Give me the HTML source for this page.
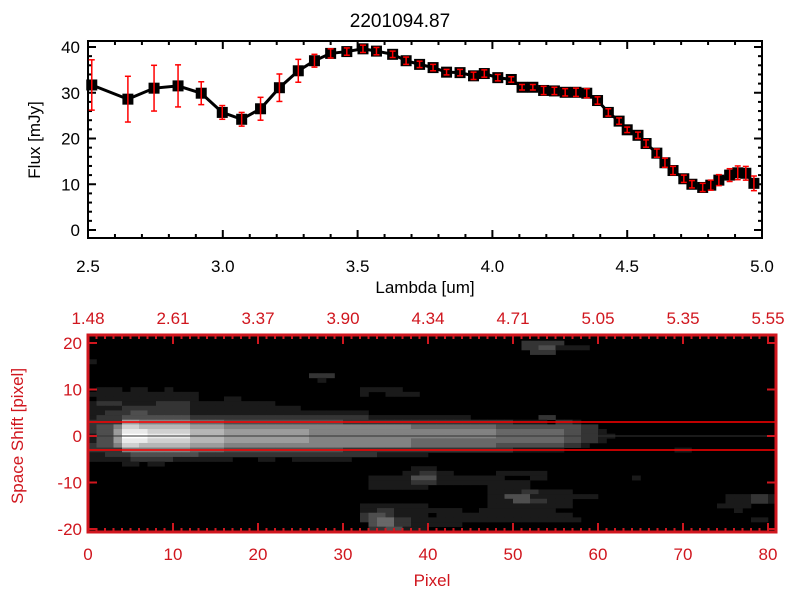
<!DOCTYPE html>
<html><head><meta charset="utf-8"><style>
html,body{margin:0;padding:0;background:#fff;}
svg text{font-family:"Liberation Sans",sans-serif;}
</style></head><body>
<svg id="chart" width="800" height="600" xmlns="http://www.w3.org/2000/svg">
<rect width="800" height="600" fill="#fff"/>
<text x="400" y="27" font-size="19" text-anchor="middle">2201094.87</text>
<g id="topPlot"></g>
<g id="botPlot"></g>
</svg>
<script>
// ---- spectrum data ----
const lambdaVals=[2.514,2.648,2.745,2.834,2.92,2.998,3.07,3.14,3.21,3.28,3.34,3.40,3.46,3.52,3.57,3.63,3.68,3.73,3.78,3.83,3.88,3.93,3.97,4.02,4.07,4.11,4.15,4.19,4.23,4.27,4.31,4.35,4.39,4.43,4.47,4.50,4.54,4.57,4.61,4.64,4.67,4.71,4.74,4.78,4.81,4.84,4.88,4.91,4.94,4.97];
const fluxVals=[31.7,28.6,31.0,31.5,29.9,25.7,24.2,26.5,31.1,34.8,37.0,38.6,39.0,39.6,39.1,38.4,37.0,36.2,35.5,34.5,34.4,33.7,34.2,33.3,32.9,31.2,31.2,30.5,30.4,30.1,30.1,29.9,28.3,25.7,23.8,21.9,20.7,18.9,16.8,14.7,13.0,11.2,10.0,9.3,9.8,10.9,12.0,12.5,12.4,10.2];
const fluxErr=[5.5,5.0,5.0,4.6,2.5,1.5,1.5,2.5,3.0,2.5,1.4,1.0,0.8,0.8,0.8,0.7,0.8,0.7,0.7,0.6,0.7,0.8,0.8,0.7,0.6,0.6,0.6,0.9,0.8,0.8,0.9,1.0,0.8,0.8,0.7,0.6,0.7,0.8,0.9,1.0,0.9,0.8,0.8,0.9,1.1,1.2,1.4,1.5,1.5,1.6];
const xTickLabels=["2.5","3.0","3.5","4.0","4.5","5.0"];
const yTickLabels=["0","10","20","30","40"];
// ---- image data (run-length rows, v=21 down to -21; "count:level") ----
const imgRows=["","51:0 5:2","51:0 2:2 2:3 4:1","52:0 3:2","","1:1","","","26:0 3:2","27:0 1:1","",
"1:0 3:1 1:0 2:1 2:0 1:1 22:0 5:1","13:1 19:0 1:1 2:0 4:1","1:0 12:1 3:0 2:1","1:1 3:2 4:1 4:2 10:1","1:1 3:1 8:2 4:1 9:1",
"2:1 3:2 2:3 5:2 4:1 17:1","1:1 3:2 8:3 4:2 17:2 12:1 8:0 2:2","1:2 3:2 2:6 6:5 4:4 14:3 20:2 4:1 1:0 2:2 1:1",
"1:2 2:3 1:5 2:8 6:7 4:6 10:5 12:5 10:4 8:3 2:3 2:2","1:2 2:3 1:6 3:9 5:8 4:7 10:6 12:5 10:5 8:4 2:3 2:2 1:1",
"1:1 2:3 1:6 3:10 5:9 4:7 10:6 12:5 10:5 8:4 2:3 2:2 2:1","1:1 2:3 1:6 3:9 5:8 4:7 10:6 12:5 10:4 8:4 2:3 2:2 1:1",
"1:2 2:3 1:5 2:8 6:7 4:6 10:5 12:5 10:4 8:3 2:2 1:1","1:2 3:2 2:5 6:5 4:4 14:3 20:2 6:1 13:0 2:1",
"2:1 3:2 8:3 4:2 17:2 6:1","2:1 3:1 5:2 7:1 3:0 2:1 2:0 7:1","4:0 2:1 1:0 2:1","38:0 3:1",
"37:0 2:1 2:2 2:1 5:0 6:1","33:0 5:1 3:3 8:1 3:0 2:1 10:0 1:1","33:0 4:1 1:1 3:2 9:1 2:1","33:0 7:1 7:0 5:1",
"47:0 4:1 2:2 4:1","47:0 2:1 3:3 8:1 15:0 3:1 2:2 3:1","47:0 3:1 2:3 2:2 3:1 18:0 3:1 2:2 2:1",
"32:0 8:1 7:0 10:1 17:0 4:1","32:0 2:1 2:2 3:1 5:1 2:0 9:1 21:0 1:1","32:0 1:2 2:3 1:2 4:1 1:0 4:1 12:1",
"32:0 1:2 1:3 2:4 2:2 3:1 6:1 11:1 20:0 2:1","33:0 1:3 2:4 2:2 3:1 3:1","33:0 2:2 2:3 3:1",""];
const topAxisLabels=["1.48","2.61","3.37","3.90","4.34","4.71","5.05","5.35","5.55"];
const pixTickLabels=["0","10","20","30","40","50","60","70","80"];
const shiftTickLabels=["-20","-10","0","10","20"];

const NS="http://www.w3.org/2000/svg";
function mk(parent,tag,attrs){const el=document.createElementNS(NS,tag);for(const k in attrs)el.setAttribute(k,attrs[k]);parent.appendChild(el);return el;}

// ===== top plot =====
const topG=document.getElementById('topPlot');
const L=88,R=762,T=41,B=238;
const sx=v=>L+(v-2.5)/2.5*(R-L);
const sy=v=>230-v*4.575;
let e;
e=mk(topG,'rect',{x:L,y:T,width:R-L,height:B-T,fill:'none',stroke:'#000','stroke-width':2});


for(let i=0;i<=25;i++){const v=2.5+i*0.1,x=sx(v),len=(i%5==0)?8:4;
 mk(topG,'line',{x1:x,y1:B,x2:x,y2:B-len,stroke:'#000','stroke-width':2});
 mk(topG,'line',{x1:x,y1:T,x2:x,y2:T+len,stroke:'#000','stroke-width':2});}
xTickLabels.forEach(s=>{const t=mk(topG,'text',{x:sx(parseFloat(s)),y:272,'font-size':17,'text-anchor':'middle'});t.textContent=s;
 
 });
for(let v=0;v<=42;v+=2){const y=sy(v);if(y<T)break;const len=(v%10==0)?8:4;
 mk(topG,'line',{x1:L,y1:y,x2:L+len,y2:y,stroke:'#000','stroke-width':2});
 mk(topG,'line',{x1:R,y1:y,x2:R-len,y2:y,stroke:'#000','stroke-width':2});}
yTickLabels.forEach(s=>{const t=mk(topG,'text',{x:80,y:sy(+s)+6,'font-size':17,'text-anchor':'end'});t.textContent=s;
 
 });
e=mk(topG,'text',{x:425,y:293,'font-size':17,'text-anchor':'middle'});e.textContent='Lambda [um]';


e=mk(topG,'text',{x:0,y:0,'font-size':17,'text-anchor':'middle',transform:'translate(40,140) rotate(-90)'});e.textContent='Flux [mJy]';


const pts=lambdaVals.map((l,i)=>sx(l)+','+sy(fluxVals[i])).join(' ');
e=mk(topG,'polyline',{points:pts,fill:'none',stroke:'#000','stroke-width':3});


lambdaVals.forEach((l,i)=>{const x=sx(l),y=sy(fluxVals[i]);
 const m=mk(topG,'rect',{x:x-5.5,y:y-5.5,width:11,height:11,fill:'#000'});
 
 });
lambdaVals.forEach((l,i)=>{const x=sx(l),y1=sy(fluxVals[i]+fluxErr[i]),y2=sy(fluxVals[i]-fluxErr[i]);
 const g=mk(topG,'g',{stroke:'#f00','stroke-width':1.5});
 
 
 mk(g,'line',{x1:x,y1:y1,x2:x,y2:y2});mk(g,'line',{x1:x-3,y1:y1,x2:x+3,y2:y1});mk(g,'line',{x1:x-3,y1:y2,x2:x+3,y2:y2});});

// ===== bottom image =====
const botG=document.getElementById('botPlot');
const BL=88,BR=776,BT=335,BB=532,pw=8.5,ph=4.65,y0=436;
const px=c=>BL+c*pw;
const py=v=>y0-v*ph;
mk(botG,'rect',{x:BL,y:BT,width:BR-BL,height:BB-BT,fill:'#000'});
imgRows.forEach((row,ri)=>{const v=21-ri;let c=0;
 row.split(' ').filter(s=>s).forEach(seg=>{const parts=seg.split(':').map(Number);const n=parts[0],lv=parts[1];
  if(lv>0){const g=Math.min(255,lv*26);const col='rgb('+g+','+g+','+g+')';
   for(let k=0;k<n;k++){const cc=c+k;if(cc>80)break;
    const yt=Math.max(BT,py(v+0.5)),yb=Math.min(BB,py(v-0.5));if(yb<=yt)continue;
    const r=mk(botG,'rect',{x:px(cc),y:yt,width:pw+0.3,height:yb-yt+0.3,fill:col});
    
    }}
  c+=n;});});
e=mk(botG,'line',{x1:BL,y1:y0,x2:BR,y2:y0,stroke:'#333','stroke-width':1});


[3,-3].forEach(v=>{const l=mk(botG,'line',{x1:BL,y1:py(v),x2:BR,y2:py(v),stroke:'#f00','stroke-width':1.5});
 
 });
const red='#d0161e';
e=mk(botG,'rect',{x:BL,y:BT,width:BR-BL,height:BB-BT,fill:'none',stroke:red,'stroke-width':3});


for(let i=0;i<=81;i++){const x=px(i),len=(i%10==0)?9:4;
 mk(botG,'line',{x1:x,y1:BB,x2:x,y2:BB-len,stroke:red,'stroke-width':2});
 mk(botG,'line',{x1:x,y1:BT,x2:x,y2:BT+len,stroke:red,'stroke-width':2});}
for(let v=-20;v<=20;v+=10){const y=py(v);
 mk(botG,'line',{x1:BL,y1:y,x2:BL+9,y2:y,stroke:red,'stroke-width':2});
 mk(botG,'line',{x1:BR,y1:y,x2:BR-9,y2:y,stroke:red,'stroke-width':2});}
pixTickLabels.forEach(s=>{const t=mk(botG,'text',{x:px(+s),y:560,'font-size':17,'text-anchor':'middle',fill:red});t.textContent=s;
 
 });
topAxisLabels.forEach((s,i)=>{const t=mk(botG,'text',{x:px(i*10),y:324,'font-size':17,'text-anchor':'middle',fill:red});t.textContent=s;
 
 });
shiftTickLabels.forEach(s=>{const t=mk(botG,'text',{x:82,y:py(+s)+6,'font-size':17,'text-anchor':'end',fill:red});t.textContent=s;
 
 });
e=mk(botG,'text',{x:432,y:586,'font-size':17,'text-anchor':'middle',fill:red});e.textContent='Pixel';


e=mk(botG,'text',{x:0,y:0,'font-size':17,'text-anchor':'middle',fill:red,transform:'translate(23,436) rotate(-90)'});e.textContent='Space Shift [pixel]';


</script>
</body></html>
